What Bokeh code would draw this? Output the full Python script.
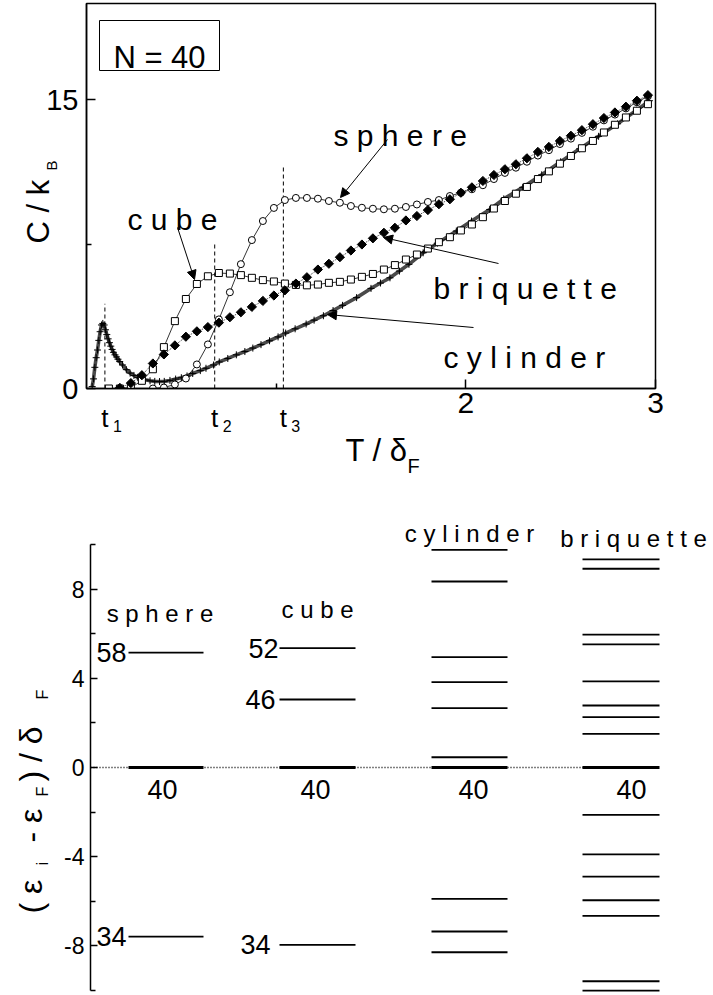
import math
from bokeh.plotting import figure
from bokeh.models import Range1d, FixedTicker, Label, BoxAnnotation, Arrow, NormalHead, GridBox
from bokeh.embed import file_html
from bokeh.resources import INLINE

FONT = "Liberation Sans"

# ---------------- data: heat capacity C/kB versus T/deltaF (N = 40) ----------------
T_grid = [0.060, 0.118, 0.176, 0.234, 0.292, 0.350, 0.408, 0.466, 0.524, 0.582,
          0.640, 0.698, 0.756, 0.814, 0.872, 0.930, 0.988, 1.046, 1.104, 1.162,
          1.220, 1.278, 1.336, 1.394, 1.452, 1.510, 1.568, 1.626, 1.684, 1.742,
          1.800, 1.858, 1.916, 1.974, 2.032, 2.090, 2.148, 2.206, 2.264, 2.322,
          2.380, 2.438, 2.496, 2.554, 2.612, 2.670, 2.728, 2.786, 2.844, 2.902,
          2.960]

C_cube = [0.0, 0.0, 0.05, 0.4, 1.0, 2.15, 3.5, 4.65, 5.43, 5.83,
          6.0, 5.97, 5.89, 5.75, 5.63, 5.56, 5.45, 5.38, 5.36, 5.4,
          5.49, 5.54, 5.66, 5.8, 5.95, 6.18, 6.41, 6.7, 6.96, 7.27,
          7.6, 7.86, 8.21, 8.52, 8.9, 9.35, 9.74, 10.12, 10.47, 10.88,
          11.28, 11.68, 12.08, 12.48, 12.86, 13.3, 13.7, 14.08, 14.43, 14.77]

C_sphere = [0.0, 0.05, 0.21, 0.52, 1.25, 2.29, 3.59, 5.0, 6.46, 7.71,
            8.7, 9.38, 9.79, 9.9, 9.9, 9.86, 9.74, 9.65, 9.48, 9.39,
            9.34, 9.31, 9.34, 9.43, 9.56, 9.69, 9.79, 10.0, 10.17, 10.35,
            10.56, 10.88, 11.2, 11.47, 11.78, 12.1, 12.38, 12.7, 12.98, 13.28,
            13.6, 13.93, 14.23, 14.55, 14.87, 15.18]

C_briquette = [0.03, 0.28, 0.69, 1.3, 1.77, 2.24, 2.69, 2.97, 3.19, 3.42,
               3.7, 3.96, 4.24, 4.55, 4.83, 5.1, 5.45, 5.78, 6.18, 6.48,
               6.82, 7.17, 7.48, 7.8, 8.09, 8.35, 8.73, 8.96, 9.27, 9.57,
               9.83, 10.17, 10.45, 10.78, 11.09, 11.39, 11.65, 11.96, 12.29, 12.55,
               12.86, 13.13, 13.42, 13.73, 14.05, 14.34, 14.64, 14.95, 15.24]

T_cylinder = [0.030, 0.037, 0.044, 0.051, 0.058, 0.065, 0.072, 0.079, 0.086, 0.093,
              0.100, 0.107, 0.114, 0.121, 0.128, 0.135, 0.142, 0.150, 0.158, 0.166,
              0.175, 0.190, 0.210, 0.230, 0.250, 0.270, 0.290, 0.310, 0.335, 0.360,
              0.385, 0.410, 0.440, 0.470, 0.500, 0.530, 0.560, 0.600, 0.630, 0.670,
              0.700, 0.745, 0.790, 0.835, 0.877, 0.920, 0.965, 1.010, 1.050, 1.100,
              1.158, 1.200, 1.249, 1.300, 1.350, 1.424, 1.500, 1.550, 1.600, 1.650,
              1.700, 1.775, 1.850, 1.950, 2.030, 2.126, 2.200, 2.300, 2.400, 2.500,
              2.600, 2.700, 2.800, 2.900, 2.968]
C_cylinder = [0.1, 0.5, 1.1, 1.6, 2.0, 2.5, 2.95, 3.3, 3.38, 3.3,
              3.05, 2.8, 2.58, 2.38, 2.2, 2.03, 1.88, 1.75, 1.64, 1.52,
              1.4, 1.22, 0.98, 0.8, 0.68, 0.58, 0.5, 0.45, 0.4, 0.37,
              0.36, 0.37, 0.42, 0.49, 0.56, 0.65, 0.78, 0.93, 1.05, 1.22,
              1.38, 1.56, 1.75, 1.92, 2.1, 2.28, 2.48, 2.68, 2.88, 3.1,
              3.35, 3.55, 3.78, 4.05, 4.32, 4.72, 5.2, 5.48, 5.75, 6.1,
              6.45, 7.05, 7.55, 8.18, 8.7, 9.3, 9.85, 10.45, 11.1, 11.78,
              12.45, 13.1, 13.75, 14.45, 14.95]

t_marks = [0.097, 0.676, 1.038]
t_mark_tops = [4.4, 7.5, 11.5]
t_mark_names = ["1", "2", "3"]

# ---------------- data: single-particle levels (eps_i - eps_F)/deltaF ----------------
shape_names = ["sphere", "cube", "cylinder", "briquette"]
levels_sphere = [5.15, 0.0, -7.58]
levels_cube = [5.35, 3.05, 0.0, -7.95]
levels_cylinder = [9.76, 8.34, 4.95, 3.83, 2.66, 0.46, 0.0, -5.89, -7.35, -8.28]
levels_briquette = [9.33, 8.91, 5.96, 5.52, 3.86, 2.78, 2.26, 1.51, 0.0,
                    -2.12, -3.89, -4.89, -5.95, -6.65, -9.58, -10.0]
magic_sphere = [("58", 5.15), ("34", -7.58)]
magic_cube = [("52", 5.35), ("46", 3.05), ("34", -7.95)]
fermi_number = "40"
level_ticks = [-8, -4, 0, 4, 8]


def spaced(word):
    return " ".join(word)


def lab(p, x, y, text, size, align="left", baseline="alphabetic", angle=0.0):
    p.add_layout(Label(x=x, y=y, text=text, text_font=FONT, text_font_size=f"{size}px",
                       text_align=align, text_baseline=baseline, angle=angle,
                       text_color="black"))


# ================= top panel =================
W = 713
H1 = 470
H2 = 525
F1_L, F1_R, F1_T, F1_B = 86, 655, 3, 388

p1 = figure(width=W, height=H1, output_backend="svg", toolbar_location=None,
            x_range=Range1d(0, 3), y_range=Range1d(0, 20), frame_align=False,
            min_border_left=F1_L, min_border_right=W - F1_R,
            min_border_top=F1_T, min_border_bottom=H1 - F1_B)
p1.grid.visible = False
p1.outline_line_color = "black"
p1.outline_line_width = 1.5
p1.background_fill_color = "white"
p1.border_fill_color = "white"

for ax in (p1.xaxis[0], p1.yaxis[0]):
    ax.axis_line_width = 1.5
    ax.major_tick_in = 9
    ax.major_tick_out = 0
    ax.minor_tick_in = 5
    ax.minor_tick_out = 0
    ax.major_tick_line_width = 1.5
    ax.minor_tick_line_width = 1.5
    ax.major_label_text_font = FONT
    ax.major_label_text_color = "black"
p1.xaxis.ticker = FixedTicker(ticks=[2, 3], minor_ticks=[1])
p1.yaxis.ticker = FixedTicker(ticks=[0, 15], minor_ticks=[7.5])
p1.xaxis.major_label_text_font_size = "30px"
p1.yaxis.major_label_text_font_size = "29px"
p1.xaxis.major_label_standoff = 4
p1.yaxis.major_label_standoff = 8

SX1 = (F1_R - F1_L) / 3.0
SY1 = (F1_B - F1_T) / 20.0


def X1(px):
    return (px - F1_L) / SX1


def Y1(py):
    return (F1_B - py) / SY1


# dashed markers t1, t2, t3
p1.segment(x0=t_marks, y0=[0] * len(t_marks), x1=t_marks, y1=t_mark_tops,
           line_color="black", line_width=1, line_dash="4 3")

# cylinder (dense crosses)
p1.line(T_cylinder, C_cylinder, line_color="#4a4a4a", line_width=3.6)
p1.scatter(T_cylinder, C_cylinder, marker="cross", size=7, line_color="black", line_width=1)

# cube (open squares)
T_c = T_grid[-len(C_cube):]
p1.line(T_c, C_cube, line_color="black", line_width=0.8)
p1.scatter(T_c, C_cube, marker="square", size=7, fill_color="white", line_color="black", line_width=1)

# sphere (open circles)
T_s = T_grid[-len(C_sphere):]
p1.line(T_s, C_sphere, line_color="black", line_width=0.8)
p1.scatter(T_s, C_sphere, marker="circle", size=7, fill_color="white", line_color="black", line_width=1)

# briquette (filled diamonds)
T_b = T_grid[-len(C_briquette):]
p1.line(T_b, C_briquette, line_color="black", line_width=0.8, line_dash="1 1")
p1.scatter(T_b, C_briquette, marker="square", angle=math.pi / 4, size=6.5,
           fill_color="black", line_color="black", line_width=1)

# N = 40 box
p1.add_layout(BoxAnnotation(left=X1(99), right=X1(219), top=Y1(20), bottom=Y1(70),
                            fill_alpha=0, line_color="black", line_alpha=1, line_width=1))
lab(p1, X1(159), Y1(57), "N = " + fermi_number, 31, align="center")

# curve labels and arrows
lab(p1, X1(333), Y1(135), spaced("sphere"), 30)
lab(p1, X1(127), Y1(219), spaced("cube"), 30)
lab(p1, X1(433), Y1(288), spaced("briquette"), 30)
lab(p1, X1(443), Y1(357), spaced("cylinder"), 30)

arrows = [((387, 139), (340, 197)), ((177, 227), (194, 279)),
          ((498, 263), (383, 237)), ((473, 327), (327, 314))]
for (xs, ys), (xe, ye) in arrows:
    p1.add_layout(Arrow(end=NormalHead(size=9, fill_color="black", line_color="black", line_width=1),
                        x_start=X1(xs), y_start=Y1(ys), x_end=X1(xe), y_end=Y1(ye),
                        line_color="black", line_width=1))

# ================= bottom panel =================
F2_L, F2_T, F2_B = 90, 30, 523

p2 = figure(width=W, height=H2, output_backend="svg", toolbar_location=None,
            x_range=Range1d(F2_L, W), y_range=Range1d(-10.13, 11.97),
            x_axis_location=None, frame_align=False,
            min_border_left=F2_L, min_border_right=0, min_border_top=F2_T,
            min_border_bottom=H2 - F2_B)
p2.grid.visible = False
p2.outline_line_color = None
p2.background_fill_color = "white"
p2.border_fill_color = "white"
ay = p2.yaxis[0]
ay.bounds = (-10, 10)
ay.ticker = FixedTicker(ticks=level_ticks, minor_ticks=[-10, -6, -2, 2, 6, 10])
ay.major_label_overrides = {v: str(v) for v in level_ticks}
ay.axis_line_width = 1.5
ay.major_tick_in = 7
ay.major_tick_out = 0
ay.minor_tick_in = 5
ay.minor_tick_out = 0
ay.major_tick_line_width = 1.5
ay.minor_tick_line_width = 1.5
ay.major_label_text_font = FONT
ay.major_label_text_font_size = "23px"
ay.major_label_text_color = "black"
ay.major_label_standoff = 6

Y0_PAGE = 767   # page row of the Fermi level
SY2 = (F2_B - F2_T) / (11.97 + 10.13)


def Y2(py):
    return (Y0_PAGE - py) / SY2


col_left = [128, 279, 431, 582]
col_right = [203, 355, 507, 659]
all_levels = [levels_sphere, levels_cube, levels_cylinder, levels_briquette]

# dotted Fermi line
p2.segment(x0=[F2_L], y0=[0], x1=[col_right[-1]], y1=[0],
           line_color="black", line_width=1.5, line_dash="1 2")

for k, lev in enumerate(all_levels):
    thin = [v for v in lev if v != 0.0]
    zero = [v for v in lev if v == 0.0]
    p2.segment(x0=[col_left[k]] * len(thin), y0=thin, x1=[col_right[k]] * len(thin), y1=thin,
               line_color="black", line_width=1.8)
    p2.segment(x0=[col_left[k]] * len(zero), y0=zero, x1=[col_right[k]] * len(zero), y1=zero,
               line_color="black", line_width=3)

# column titles
title_pos = [(159.5, 613), (317, 609), (469, 533), (633, 538)]
for name, (cx, by) in zip(shape_names, title_pos):
    lab(p2, cx, Y2(by), spaced(name), 24, align="center")

# Fermi-level numbers
for cx in [162, 315, 473, 631]:
    lab(p2, cx, Y2(789), fermi_number, 27, align="center", baseline="middle")

# magic numbers
for (txt, lv) in magic_sphere:
    lab(p2, 126, lv, txt, 27, align="right", baseline="middle")
for (txt, lv), rx in zip(magic_cube, [278, 275, 270]):
    lab(p2, rx, lv, txt, 27, align="right", baseline="middle")

# ================= transparent overlay for texts outside the frames =================
ov = figure(width=W, height=H1 + H2, output_backend="svg", toolbar_location=None,
            x_range=Range1d(0, W), y_range=Range1d(H1 + H2, 0),
            x_axis_location=None, y_axis_location=None, frame_align=False,
            min_border_left=0, min_border_right=0, min_border_top=0, min_border_bottom=0)
ov.grid.visible = False
ov.outline_line_color = None
ov.background_fill_color = None
ov.border_fill_color = None

# t labels under the top axis
for t, name in zip(t_marks, t_mark_names):
    px = F1_L + t * SX1
    lab(ov, px, 417, "t", 26, align="center")
    lab(ov, px + 8, 425, name, 16)

# axis titles of the top panel
lab(ov, 345, 450, "T / δ", 31)
lab(ov, 407, 465, "F", 20)
rot = math.pi / 2
lab(ov, 38, 243, "C / k", 31, angle=rot)
lab(ov, 51, 170, "B", 15, angle=rot)

# axis title of the bottom panel: ( eps_i - eps_F ) / delta_F
lab(ov, 30, 913, "( ε", 32, angle=rot)
lab(ov, 42, 865, "i", 17, angle=rot)
lab(ov, 30, 842, "- ε", 32, angle=rot)
lab(ov, 42, 796, "F", 16, angle=rot)
lab(ov, 30, 781, ") / δ", 32, angle=rot)
lab(ov, 42, 699, "F", 16, angle=rot)

root = GridBox(children=[(p1, 0, 0), (p2, 1, 0), (ov, 0, 0, 2, 1)])
open("out.html", "w").write(file_html(root, INLINE))
